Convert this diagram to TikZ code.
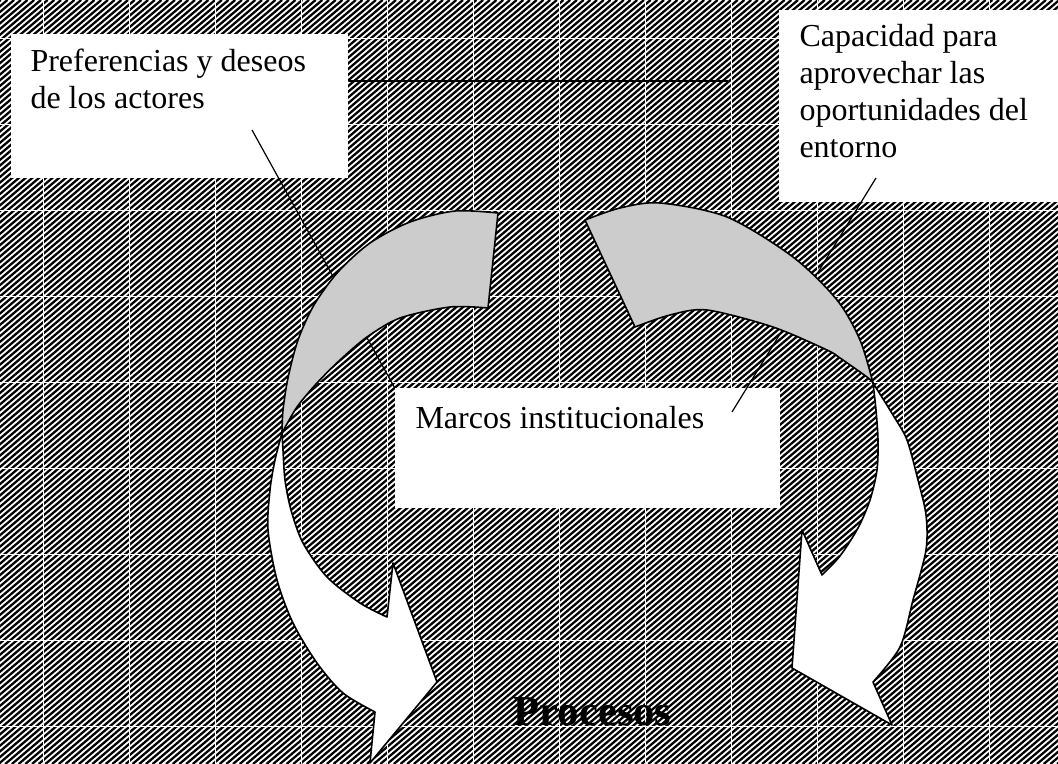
\documentclass[tikz,border=0pt]{standalone}
\usepackage{fontspec}
\setmainfont{Liberation Serif}
\usepackage{tikz}
\usetikzlibrary{fit}
\definecolor{greyColor}{RGB}{204, 204, 204}

\begin{document}
\begin{tikzpicture}[x=0.375pt, y=-0.375pt,
    stripe/.style={line width=0.85pt, black},
    seam/.style={line width=0.25pt, white},
    whitebox/.style={draw=none, fill=white, inner sep=0pt},
    boxtext/.style={inner sep=0pt, align=left, font=\fontsize{12}{13.8}\selectfont},
    callout/.style={line width=0.45pt, black},
    backpart/.style={draw=black, line width=0.6pt, fill=greyColor, line join=round},
    frontpart/.style={draw=black, line width=0.6pt, fill=white, line join=round}]
    \useasboundingbox (0,0) rectangle (1058,764);
    % hatched ground
    \begin{scope}
        \clip (0,0) rectangle (1058,764);
        \fill[white] (0,0) rectangle (1058,764);
        \foreach \i in {-906,-899.3,...,1062} \draw[stripe] (\i,764) -- ++(900,-764);
        \foreach \x in {43,129,...,1058} \draw[seam] (\x,0) -- (\x,764);
        \foreach \y in {38,124,...,764} \draw[seam] (0,\y) -- (1058,\y);
    \end{scope}
    % boxes
    \node[whitebox, fit={(11,34) (348,178)}] (prefbox) {};
    \node[whitebox, fit={(779,10) (1058,202)}] (capbox) {};
    \node[whitebox, fit={(395,388) (780,508)}] (marcosbox) {};
    % base = baseline of the last line
    \node[boxtext, anchor=base west] (preftext) at (30,108) {Preferencias y deseos\\de los actores};
    \node[boxtext, anchor=base west] (captext) at (799,157) {Capacidad para\\aprovechar las\\oportunidades del\\entorno};
    \node[boxtext, anchor=base west] (marcostext) at (415,428) {Marcos institucionales};
    \node[inner sep=0pt, anchor=base west, font=\fontsize{16}{19}\selectfont\bfseries] (procesos) at (513,725) {Procesos};
    % callouts
    \coordinate (prefpin) at (252,130);
    \coordinate (cappin) at (876,178);
    \coordinate (marcospin) at (732,412);
    \coordinate (ruleend) at (728,81);
    \draw[callout] (prefbox.east |- ruleend) -- (ruleend);
    \draw[callout] (prefpin) -- (marcosbox.north west);
    \draw[callout] (cappin) -- (marcospin);
    % left curved arrow
    \draw[backpart] plot[smooth] coordinates {(498,213) (455,211) (410,222) (370,243) (338,272) (314,305) (298,340) (288,378) (283,410) (282,433)}
        -- plot[smooth] coordinates {(282,433) (297,407) (317,383) (340,360) (367,337) (400,318) (450,307) (488,308)} -- cycle;
    \draw[frontpart] plot[smooth] coordinates {(282,433) (275,460) (270,490) (268,530) (277,580) (293,623) (317,663) (343,693) (375,712)}
        -- (370,763) -- (437,682) -- (393,563) -- (387,617)
        -- plot[smooth] coordinates {(387,617) (360,603) (327,577) (303,543) (291,510) (285,480) (283,450) (282,433)} -- cycle;
    % right curved arrow
    \draw[backpart] plot[smooth] coordinates {(585,220) (620,208) (660,203) (727,217) (793,257) (837,300) (860,340) (873,383)}
        -- plot[smooth] coordinates {(873,383) (867,377) (840,358) (827,350) (773,327) (707,310) (670,315) (635,327)} -- cycle;
    \draw[frontpart] plot[smooth] coordinates {(873,383) (893,415) (907,440) (918,480) (926,515) (926,550) (913,600) (900,647) (873,682)}
        -- (892,725) -- (792,668) -- (802,530) -- (822,575)
        -- plot[smooth] coordinates {(822,575) (840,556) (858,528) (870,500) (877,470) (878,440) (876,410) (873,383)} -- cycle;
\end{tikzpicture}
\end{document}
